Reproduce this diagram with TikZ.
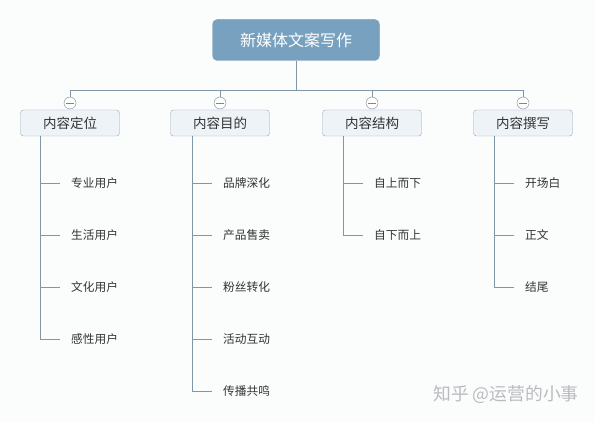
\documentclass[tikz,border=0pt]{standalone}
\usepackage{fontspec}
\setmainfont{Noto Sans CJK SC}
\usetikzlibrary{positioning}

\definecolor{pagebg}{HTML}{FBFCFC}
\definecolor{rootfill}{HTML}{78A1BF}
\definecolor{rootedge}{HTML}{6F97B5}
\definecolor{topicfill}{HTML}{EEF3F7}
\definecolor{topicedge}{HTML}{98A9B5}
\definecolor{linkcol}{HTML}{8396A6}
\definecolor{leaftext}{HTML}{333333}
\definecolor{marktext}{HTML}{B9BCBF}

\tikzset{
    rootbox/.style={draw=rootedge, fill=rootfill, rounded corners=5pt, minimum width=167pt, minimum height=41pt, text=white, font=\fontsize{16pt}{18pt}\selectfont},
    topicbox/.style={draw=topicedge, fill=topicfill, rounded corners=3pt, minimum width=99pt, minimum height=26pt, text=leaftext, font=\fontsize{13.5pt}{15pt}\selectfont},
    foldmark/.style={circle, draw=linkcol!90!black, fill=white, minimum size=12pt, inner sep=0pt,
        path picture={\draw[linkcol!90!black] ([xshift=-3.8pt]path picture bounding box.center) -- ([xshift=3.8pt]path picture bounding box.center);}},
    leaf/.style={anchor=west, inner sep=0pt, text=leaftext, font=\fontsize{11.7pt}{13pt}\selectfont},
    link/.style={draw=linkcol, line width=0.8pt},
}

\begin{document}
\begin{tikzpicture}[x=1pt,y=-1pt]
    \path[use as bounding box, fill=pagebg] (0,0) rectangle (594,422);

    % root
    \node[rootbox] (R) at (296,40) {新媒体文案写作};
    \coordinate (hub) at (296,90);
    \coordinate (hubL) at (70,90);
    \coordinate (hubR) at (523,90);
    \draw[link] (R.south) -- (hub);
    \draw[link] (hubL) -- (hubR);

    % topics
    \foreach \col/\x/\lbl in {A/70/内容定位, B/220/内容目的, C/372/内容结构, D/523/内容撰写} {
        \node[topicbox] (\col) at (\x,123) {\lbl};
        \node[foldmark] (\col m) at (\x,103) {};
        \draw[link] (\x,90) -- (\col m.north);
    }

    % leaves
    \foreach \col/\sx/\items in {A/40/{专业用户,生活用户,文化用户,感性用户},
                                 B/192/{品牌深化,产品售卖,粉丝转化,活动互动,传播共鸣},
                                 C/343/{自上而下,自下而上},
                                 D/494/{开场白,正文,结尾}} {
        \coordinate (\col s) at (\sx,136);
        \foreach \t [count=\i] in \items {
            \node[leaf] (\col\i) at ({\sx+31},{131+52*\i}) {\t};
            \draw[link] (\col s) |- ([xshift=-11pt]\col\i.west);
        }
    }

    % watermark
    \node[anchor=west, inner sep=0pt, text=marktext, font=\fontsize{17.8pt}{19pt}\selectfont] (mark) at (433,395) {知乎 @运营的小事};
\end{tikzpicture}
\end{document}
